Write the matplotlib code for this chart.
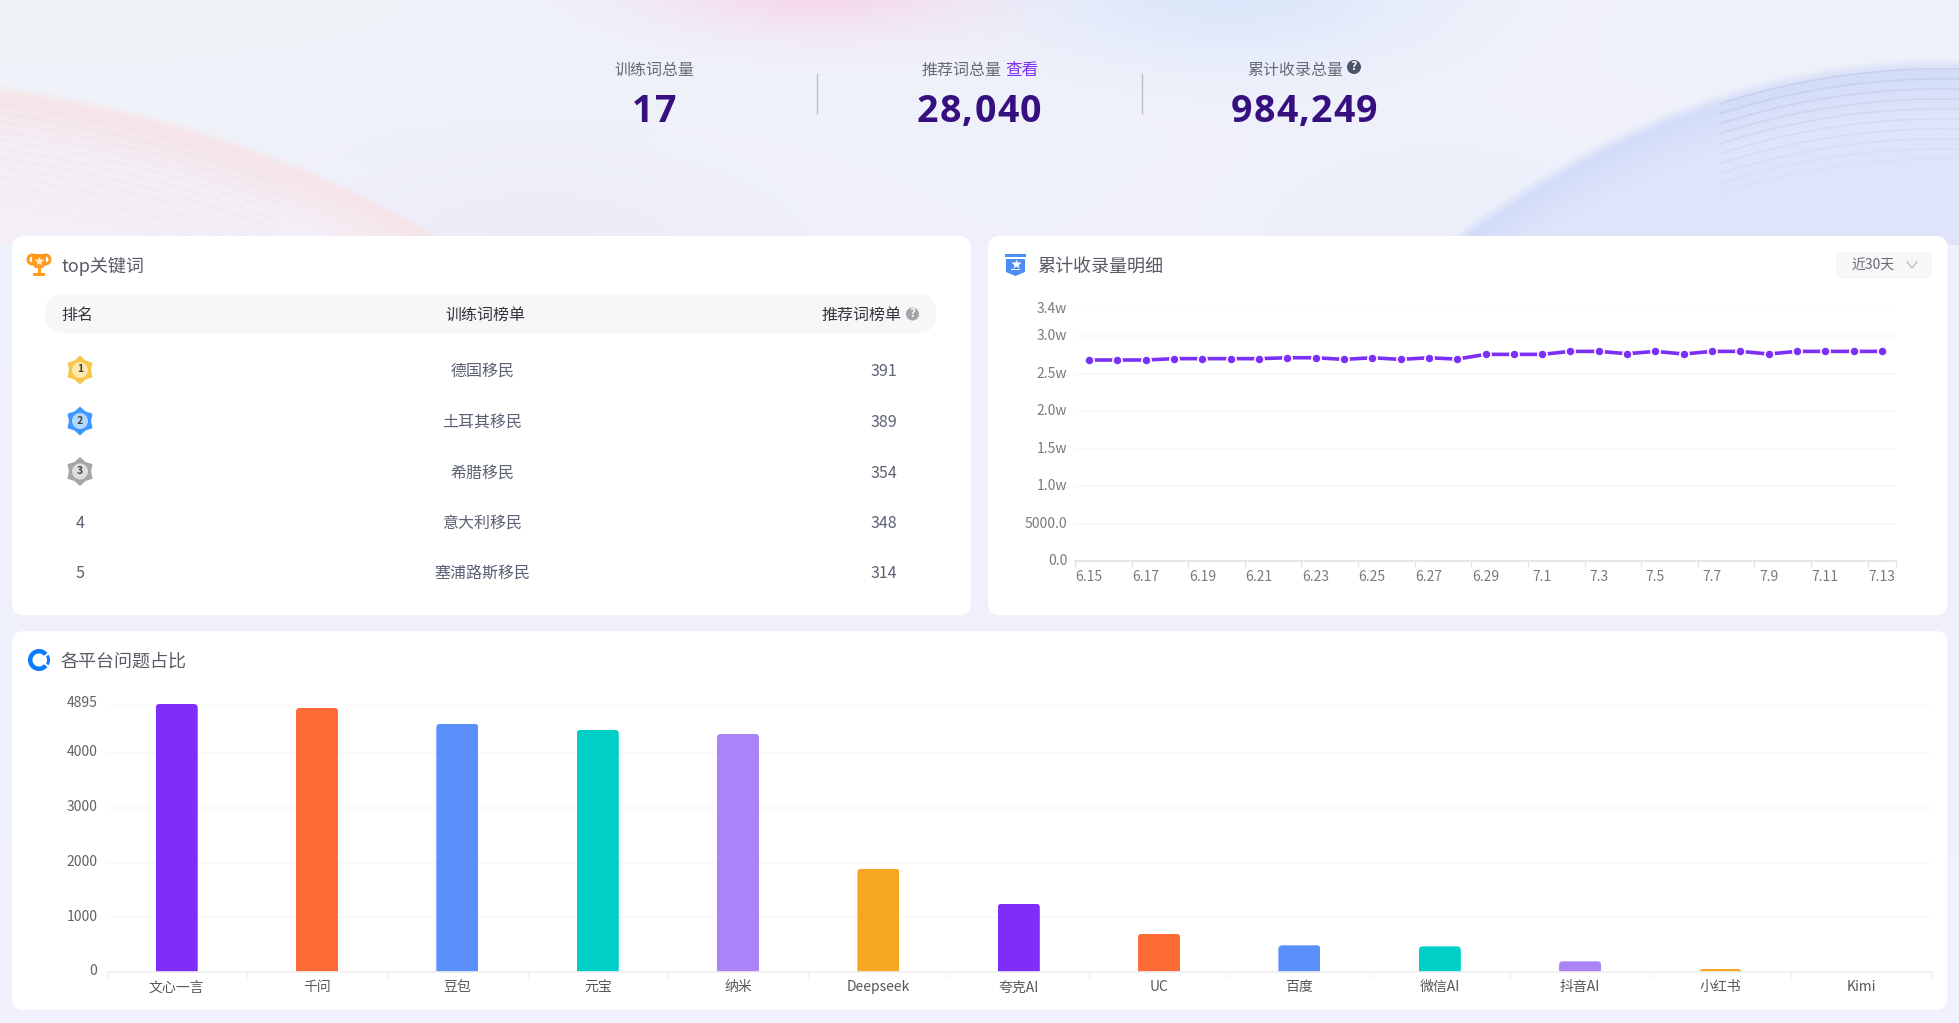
import numpy as np
import matplotlib
matplotlib.use("Agg")
import matplotlib.pyplot as plt
from matplotlib.patches import Circle, FancyBboxPatch, Polygon, Rectangle, Wedge, Ellipse
from matplotlib.transforms import ScaledTranslation

plt.rcParams['font.family'] = ['Noto Sans CJK SC', 'DejaVu Sans']

W, H = 1959, 1023

# header numbers
stat_labels = ["训练词总量", "推荐词总量", "累计收录总量"]
stat_values = ["17", "28,040", "984,249"]

# top keywords table
ranks = [1, 2, 3, 4, 5]
keywords = ["德国移民", "土耳其移民", "希腊移民", "意大利移民", "塞浦路斯移民"]
keyword_counts = [391, 389, 354, 348, 314]

# daily cumulative line
days = ["6.15", "6.16", "6.17", "6.18", "6.19", "6.20", "6.21", "6.22", "6.23", "6.24",
        "6.25", "6.26", "6.27", "6.28", "6.29", "6.30", "7.1", "7.2", "7.3", "7.4",
        "7.5", "7.6", "7.7", "7.8", "7.9", "7.10", "7.11", "7.12", "7.13"]
daily_total = [26800, 26800, 26800, 26980, 26980, 26980, 26980, 27100, 27100, 26880,
               27100, 26880, 27100, 26920, 27550, 27550, 27550, 27950, 27950, 27640,
               27950, 27600, 27950, 27950, 27600, 27950, 27950, 27950, 27950]
line_ticks = [0, 5000, 10000, 15000, 20000, 25000, 30000, 33600]
line_tick_labels = ["0.0", "5000.0", "1.0w", "1.5w", "2.0w", "2.5w", "3.0w", "3.4w"]

# platform bars
platforms = ["文心一言", "千问", "豆包", "元宝", "纳米", "Deepseek", "夸克AI", "UC",
             "百度", "微信AI", "抖音AI", "小红书", "Kimi"]
platform_counts = [4895, 4824, 4532, 4422, 4349, 1886, 1247, 700, 487, 468, 195, 55, 0]
bar_ticks = [0, 1000, 2000, 3000, 4000, 4895]
bar_colors = ["#7F2DF8", "#FF6B35", "#5B8FF9", "#00CFC8", "#A983F7", "#F5A623"]

PURPLE = "#7B2FF7"
TITLE = "#5A5A66"
ROW = "#5C6273"


def rgb(hex_color):
    return np.array(matplotlib.colors.to_rgb(hex_color))


def blob(img, cx, cy, sx, sy, color, strength=1.0):
    a = strength * np.exp(-((xx - cx) / sx) ** 2 - ((yy - cy) / sy) ** 2)
    return img * (1 - a[..., None]) + rgb(color) * a[..., None]


def swoosh(img, px, py, color_a, color_b, strength, soft):
    # soft coloured area under a smooth curve, fading away from the edge
    curve = np.polyval(np.polyfit(px, py, 3), xx[0])
    inside = np.clip((yy - curve[None, :]) / soft, 0, 1)
    t = np.clip((yy - curve[None, :]) / 60.0, 0, 1)[..., None]
    col = rgb(color_a) * (1 - t) + rgb(color_b) * t
    a = (inside * strength)[..., None]
    a = a * (yy < 245)[..., None]
    return img * (1 - a) + col * a


# page background
yy, xx = np.mgrid[0:H, 0:W].astype(float)
page = np.ones((H, W, 3)) * rgb("#F0F1FB")
page = blob(page, 0, 0, 1000, 150, "#EFF4F8", 0.8)
page = blob(page, 820, -20, 170, 50, "#F8CDE3", 0.8)
page = blob(page, 1230, -10, 190, 70, "#D6E4FB", 0.8)
page = blob(page, 540, 250, 230, 105, "#E9E9F8", 0.55)
page = blob(page, 1437, 235, 200, 105, "#E9EDFA", 0.55)

left_x = [0, 134, 268, 357, 446]
left_y = [83, 110, 150, 190, 236]
right_x = [1451, 1571, 1661, 1795, 1959]
right_y = [236, 157, 113, 72, 57]
page = swoosh(page, left_x, left_y, "#F8E2E3", "#F5EEF6", 0.9, 10.0)
page = swoosh(page, right_x, right_y, "#CBD8F8", "#DFE3FA", 0.9, 14.0)

fig = plt.figure(figsize=(W / 100, H / 100), dpi=100)
bg = fig.add_axes([0, 0, 1, 1], zorder=0)
bg.imshow(page, extent=[0, W, H, 0], aspect="auto", interpolation="bilinear")
bg.set_xlim(0, W)
bg.set_ylim(H, 0)
bg.axis("off")

# fine lines inside the two swooshes
lx = np.linspace(0, 280, 80)
lc = np.polyval(np.polyfit(left_x, left_y, 3), lx)
for i in range(1, 13):
    bg.plot(lx, lc + i * 9 + 12, color="#E6DDEA", lw=1.0, alpha=0.35 - i * 0.015)
rx = np.linspace(1720, 1959, 80)
rc = np.polyval(np.polyfit(right_x, right_y, 3), rx)
for i in range(1, 11):
    bg.plot(rx, rc + i * 10 + 2, color="#BFC4DE", lw=1.2, alpha=0.6 - i * 0.05)


def card(x0, y0, x1, y1):
    bg.add_patch(FancyBboxPatch((x0, y0), x1 - x0, y1 - y0, boxstyle="round,pad=0,rounding_size=12",
                                fc="white", ec="none", zorder=2))


def label(x, y, s, size=11.5, color=ROW, ha="center", **kw):
    return bg.text(x, y, s, fontsize=size, color=color, ha=ha, va="center", zorder=5, **kw)


def help_icon(x, y, r, color):
    bg.add_patch(Circle((x, y), r, fc=color, ec="none", zorder=5))
    label(x, y - 0.5, "?", size=r * 1.25, color="white", fontweight="bold")


def spaced_number(cx, y, s):
    # big header numbers have some letter spacing
    r = fig.canvas.get_renderer()
    gap = 1.2
    widths = []
    for ch in s:
        t = bg.text(0, 0, ch, fontsize=27, fontweight="bold", family="Open Sans")
        widths.append(t.get_window_extent(r).width)
        t.remove()
    x = cx - (sum(widths) + gap * (len(s) - 1)) / 2
    for ch, w in zip(s, widths):
        bg.text(x, y, ch, fontsize=27, fontweight="bold", family="Open Sans", color="#36107F",
                ha="left", va="center_baseline", zorder=5)
        x += w + gap


# header stats
stat_x = [654, 979, 1304]
label(stat_x[0], 70, stat_labels[0], color="#666A75")
label(922, 70, stat_labels[1], color="#666A75", ha="left")
label(1005, 70, "查看", size=12, color=PURPLE, ha="left")
label(1247, 70, stat_labels[2], color="#666A75", ha="left")
help_icon(1354, 67, 7, "#4D5469")
for x, v in zip(stat_x, stat_values):
    spaced_number(x, 107, v)
for x in [817, 1141.5]:
    bg.plot([x, x], [74, 113], color="#BDBDC4", lw=1.0, zorder=4)

# cards
card(12, 236, 971, 615)
card(988, 236, 1947.5, 615)
card(12, 631, 1947.5, 1010)

# trophy icon
ORANGE = "#FF9A1F"
bg.add_patch(Ellipse((32.5, 259.5), 9, 9, fc="none", ec=ORANGE, lw=2.2, zorder=5))
bg.add_patch(Ellipse((45.5, 259.5), 9, 9, fc="none", ec=ORANGE, lw=2.2, zorder=5))
bg.add_patch(Polygon([(32, 254), (46, 254), (46, 263), (43, 268), (35, 268), (32, 263)],
                     fc=ORANGE, ec="none", zorder=6))
bg.add_patch(Rectangle((37.5, 268), 3, 5, fc=ORANGE, ec="none", zorder=6))
bg.add_patch(Rectangle((33, 273), 12, 3, fc=ORANGE, ec="none", zorder=6))
bg.plot([39], [261], marker="*", ms=7, color="#FFE9C8", mec="none", zorder=7)
label(61, 266.5, "top关键词", size=13, color=TITLE, ha="left")

# badge icon
BLUE = "#4C8DF6"
bg.add_patch(Rectangle((1005, 254), 21, 3, fc=BLUE, ec="none", zorder=5))
bg.add_patch(Polygon([(1006, 259), (1025, 259), (1025, 272), (1015.5, 276), (1006, 272)],
                     fc=BLUE, ec="none", zorder=5))
bg.plot([1015.5], [264], marker="*", ms=7, color="white", mec="none", zorder=6)
bg.add_patch(Rectangle((1011, 268.5), 9, 1.6, fc="white", ec="none", zorder=6))
label(1037, 266.5, "累计收录量明细", size=13, color=TITLE, ha="left")

# range selector
bg.add_patch(FancyBboxPatch((1836, 252), 96, 27, boxstyle="round,pad=0,rounding_size=7",
                            fc="#F7F7F8", ec="none", zorder=4))
label(1851, 266, "近30天", size=10, color="#666A75", ha="left")
bg.plot([1907, 1912, 1917], [262, 268, 262], color="#BDBFC6", lw=1.0, zorder=5)

# ring icon
RING = "#0A7BFF"
bg.add_patch(Wedge((39, 660), 11, 40, 320, width=4.5, fc=RING, ec="none", zorder=5))
bg.add_patch(Wedge((39, 660), 11, -28, 28, width=3, fc=RING, ec="none", zorder=5))
label(60.5, 661.5, "各平台问题占比", size=13, color=TITLE, ha="left")

# table
bg.add_patch(FancyBboxPatch((45, 294), 891, 39, boxstyle="round,pad=0,rounding_size=19",
                            fc="#F7F7F8", ec="none", zorder=4))
label(77.5, 315, "排名", color="#33363D")
label(485.5, 315, "训练词榜单", color="#33363D")
label(821, 315, "推荐词榜单", color="#33363D", ha="left")
help_icon(912.5, 314, 6.5, "#A3A5AB")

row_y = [370, 421, 471.5, 522, 572]
medal_colors = [("#F8C64C", "#FDE8AE"), ("#3D98FF", "#B3D8FF"), ("#A6A6A6", "#DEDEDE")]
for rank, name, count, y in zip(ranks, keywords, keyword_counts, row_y):
    if rank <= 3:
        outer, inner = medal_colors[rank - 1]
        ang = np.deg2rad(np.arange(0, 360, 30) - 90)
        rad = np.where(np.arange(12) % 2 == 0, 14.5, 11.0)
        star = np.column_stack([80 + rad * np.cos(ang), y + rad * np.sin(ang)])
        bg.add_patch(Polygon(star, fc=outer, ec="none", zorder=5))
        bg.add_patch(Circle((80, y), 8, fc=inner, ec="none", zorder=6))
        bg.text(80, y - 0.5, str(rank), fontsize=7.5, fontweight="bold", color="#4A4030",
                ha="center", va="center", zorder=7)
    else:
        label(80, y + 1.5, str(rank))
    label(482.5, y + 1.5, name)
    label(884, y + 1.5, str(count))


def style_axes(ax, pad_y):
    ax.patch.set_alpha(0)
    for side in ["top", "left", "right"]:
        ax.spines[side].set_visible(False)
    ax.grid(axis="y", color="#F8F8FA", lw=1.2)
    ax.set_axisbelow(True)
    ax.tick_params(axis="y", length=0, pad=pad_y)
    ax.tick_params(axis="x", which="major", length=0)


def raise_ylabels(ax, px):
    # y labels sit a little above their gridlines
    shift = ScaledTranslation(0, px / 100, fig.dpi_scale_trans)
    for lab in ax.get_yticklabels():
        lab.set_transform(lab.get_transform() + shift)


# line chart, x runs over category bands
ax1 = fig.add_axes([1075 / W, 1 - 561 / H, 821 / W, 252 / H], zorder=3)
style_axes(ax1, 5.5)
n = np.arange(len(days))
ax1.plot(n, daily_total, color=PURPLE, lw=2.6, marker="o", ms=6.6, mec="white", mew=1.2,
         solid_capstyle="butt", clip_on=False)
ax1.set_xlim(-0.5, len(days) - 0.5)
ax1.set_ylim(0, line_ticks[-1])
ax1.set_yticks(line_ticks)
ax1.set_yticklabels(line_tick_labels, fontsize=10, color="#777A80")
raise_ylabels(ax1, 1.2)
ax1.set_xticks(n[::2])
ax1.set_xticklabels(days[::2], fontsize=10, color="#777A80")
edges = list(np.arange(-0.5, len(days) - 0.5, 2)) + [len(days) - 0.5]
ax1.set_xticks(edges, minor=True)
ax1.tick_params(axis="x", which="minor", length=4, color="#E4E4E8", width=1)
ax1.tick_params(axis="x", which="major", pad=6.8)
ax1.spines["bottom"].set_color("#E6E6EA")
ax1.spines["bottom"].set_linewidth(1.4)

# bar chart
ax2 = fig.add_axes([106.5 / W, 1 - 972 / H, 1824.5 / W, 268 / H], zorder=3)
style_axes(ax2, 6.5)
m = np.arange(len(platforms))
colors = [bar_colors[i % len(bar_colors)] for i in m]
bars = ax2.bar(m, platform_counts, width=0.3, color=colors)
ax2.set_xlim(-0.5, len(platforms) - 0.5)
ax2.set_ylim(0, bar_ticks[-1])

# round the top corners of the bars
px_x = 1824.5 / len(platforms)
px_y = 268 / bar_ticks[-1]
for b in bars:
    if b.get_height() > 0:
        clip = FancyBboxPatch((b.get_x(), -500), b.get_width(), b.get_height() + 500,
                              boxstyle="round,pad=0,rounding_size=%f" % (4 / px_x),
                              mutation_aspect=px_x / px_y, transform=ax2.transData)
        b.set_clip_path(clip)

ax2.set_yticks(bar_ticks)
ax2.set_yticklabels([str(t) for t in bar_ticks], fontsize=10, color="#5F6166")
raise_ylabels(ax2, 2.2)
ax2.set_xticks(m)
ax2.set_xticklabels(platforms, fontsize=10, color="#55575C")
ax2.set_xticks(np.arange(-0.5, len(platforms), 1), minor=True)
ax2.tick_params(axis="x", which="minor", length=4, color="#F0F0F3", width=1)
ax2.tick_params(axis="x", which="major", pad=6)
ax2.spines["bottom"].set_color("#F0F0F3")
ax2.spines["bottom"].set_linewidth(1.2)

fig.savefig("out.png", dpi=100)
